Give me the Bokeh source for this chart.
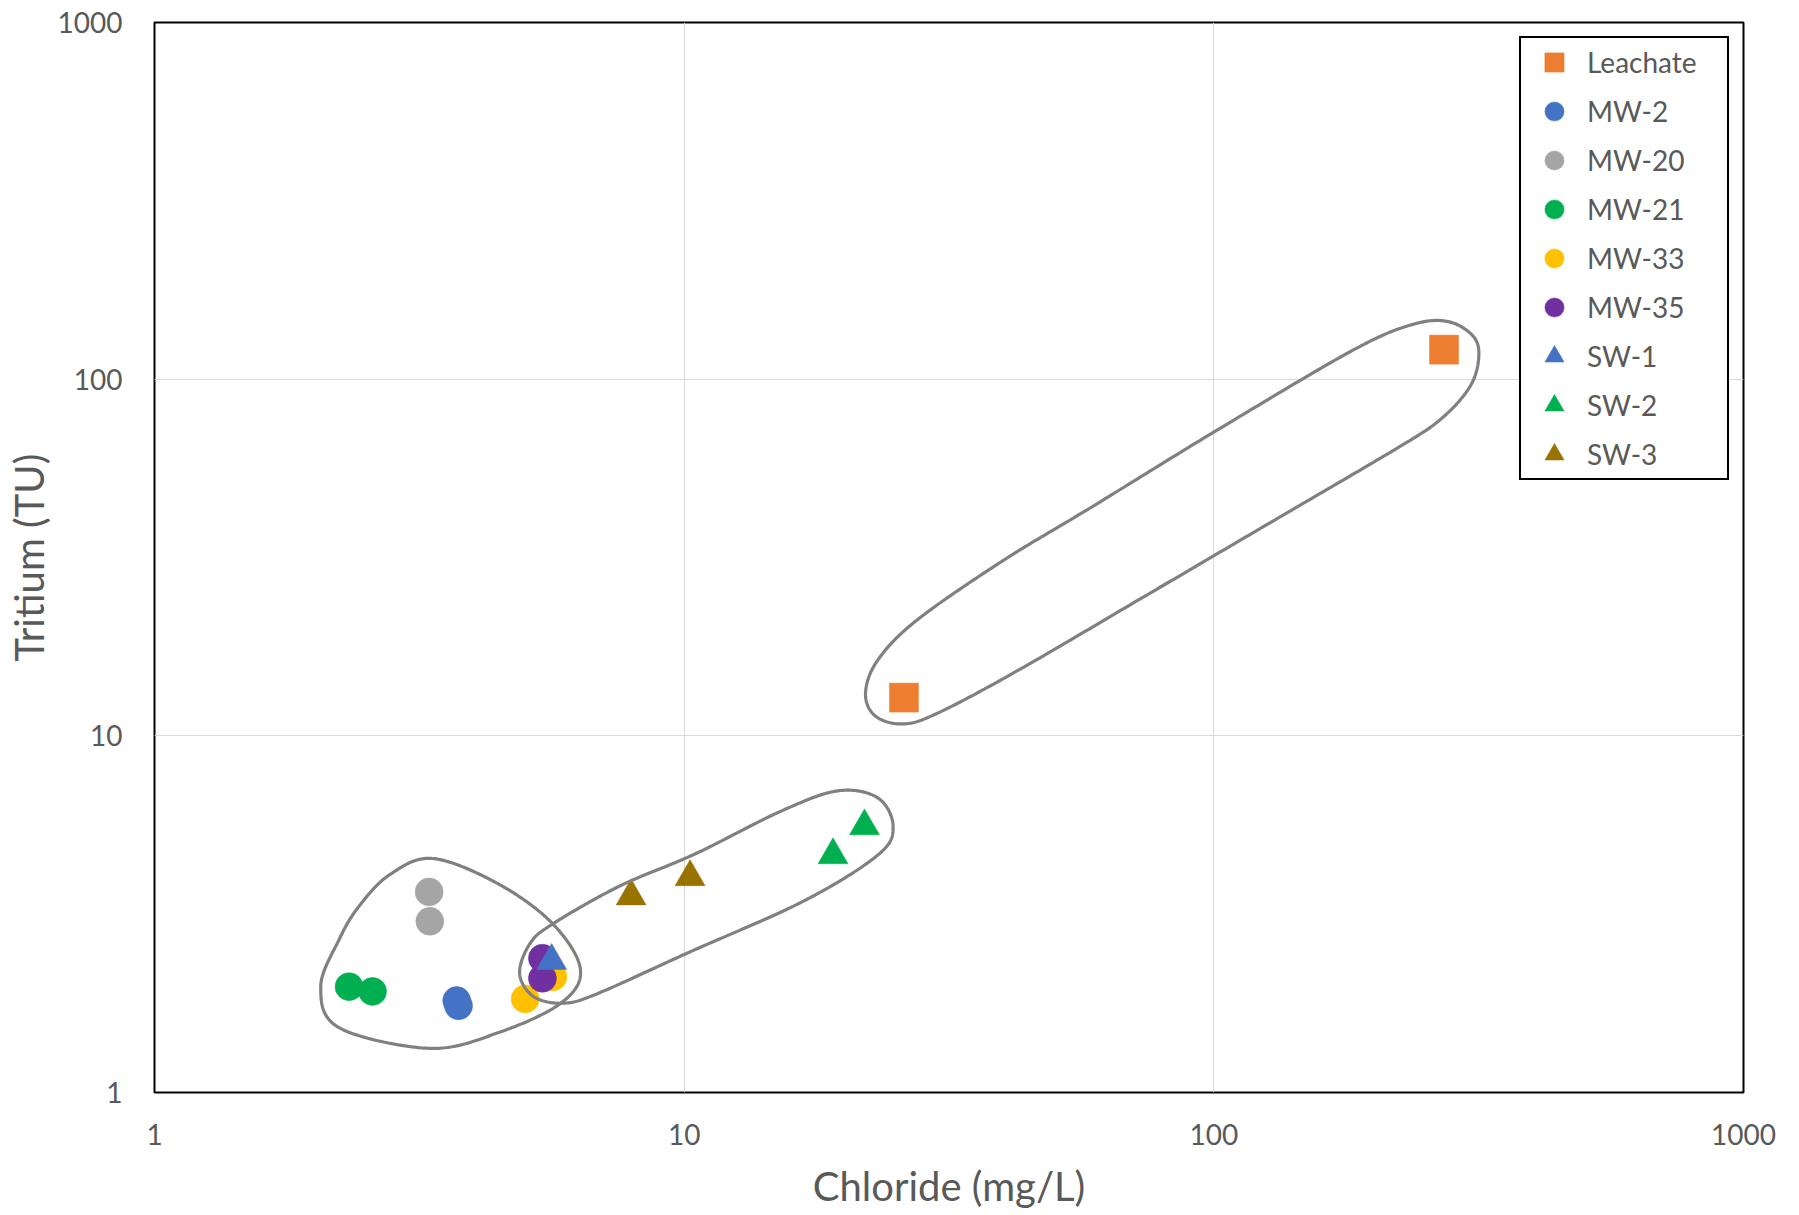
import numpy as np
from bokeh.plotting import figure
from bokeh.models import FixedTicker, PrintfTickFormatter, Legend, LegendItem
from bokeh.embed import file_html
from bokeh.resources import INLINE

# Chloride (mg/L) and tritium (TU) per sampling location
leachate_cl = [26.0, 272.0]
leachate_h3 = [12.8, 121.0]
mw2_cl = [3.72, 3.75]
mw2_h3 = [1.81, 1.75]
mw20_cl = [3.30, 3.31]
mw20_h3 = [3.65, 3.02]
mw21_cl = [2.33, 2.58]
mw21_h3 = [1.98, 1.92]
mw33_cl = [5.01, 5.65]
mw33_h3 = [1.83, 2.11]
mw35_cl = [5.40, 5.40]
mw35_h3 = [2.38, 2.09]
sw1_cl = [5.62]
sw1_h3 = [2.34]
sw2_cl = [19.1, 21.9]
sw2_h3 = [4.63, 5.58]
sw3_cl = [7.94, 10.26]
sw3_h3 = [3.55, 4.02]

# Outline anchors (chloride, tritium) for the three groupings
group_gw_cl = [3.35, 4.45, 5.65, 6.37, 5.85, 4.45, 3.31, 2.23, 2.06, 2.23, 2.43, 2.78]
group_gw_h3 = [4.53, 3.85, 2.97, 2.21, 1.78, 1.47, 1.33, 1.52, 1.98, 2.68, 3.32, 4.08]
group_sw_cl = [4.89, 5.12, 5.65, 7.55, 10.5, 15.2, 19.5, 23.2, 24.8, 23.2, 16.8, 10.2, 6.84, 5.89, 5.19]
group_sw_h3 = [2.16, 2.62, 2.97, 3.79, 4.67, 6.14, 7.01, 6.70, 5.57, 4.63, 3.44, 2.47, 1.89, 1.78, 1.86]
group_lc_cl = [22.0, 22.9, 25.7, 29.8, 42.5, 75.0, 130, 222, 268, 303, 316, 310,
               277, 236, 182, 101, 58.5, 40.0, 27.5, 23.2]
group_lc_h3 = [13.2, 11.4, 10.8, 11.5, 15.2, 24.9, 40.2, 64.1, 77.2, 94.2, 113, 131,
               145, 142, 120, 71.7, 43.6, 31.0, 21.1, 16.3]

decade_ticks = [1, 10, 100, 1000]

FONT = "Lato"
TEXT = "#595959"

series = [
    ("Leachate", leachate_cl, leachate_h3, "square", "#ED7D31", 29),
    ("MW-2", mw2_cl, mw2_h3, "circle", "#4472C4", 28),
    ("MW-20", mw20_cl, mw20_h3, "circle", "#A5A5A5", 28),
    ("MW-21", mw21_cl, mw21_h3, "circle", "#00B050", 28),
    ("MW-33", mw33_cl, mw33_h3, "circle", "#FFC000", 28),
    ("MW-35", mw35_cl, mw35_h3, "circle", "#7030A0", 28),
    ("SW-1", sw1_cl, sw1_h3, "triangle", "#4472C4", 30),
    ("SW-2", sw2_cl, sw2_h3, "triangle", "#00B050", 30),
    ("SW-3", sw3_cl, sw3_h3, "triangle", "#997300", 30),
]


def closed_spline(xs, ys, n=30):
    """Smooth closed Catmull-Rom curve through anchors, built in log space."""
    P = np.column_stack([np.log10(xs), np.log10(ys)])
    m = len(P)
    t = np.linspace(0, 1, n, endpoint=False)[:, None]
    segs = []
    for i in range(m):
        p0, p1, p2, p3 = P[i - 1], P[i], P[(i + 1) % m], P[(i + 2) % m]
        seg = 0.5 * (2 * p1 + (-p0 + p2) * t
                     + (2 * p0 - 5 * p1 + 4 * p2 - p3) * t ** 2
                     + (-p0 + 3 * p1 - 3 * p2 + p3) * t ** 3)
        segs.append(seg)
    pts = np.vstack(segs + [segs[0][:1]])
    return 10 ** pts[:, 0], 10 ** pts[:, 1]


p = figure(
    width=1799, height=1215,
    x_axis_type="log", y_axis_type="log",
    x_range=(1, 1000), y_range=(1, 1000),
    output_backend="svg", toolbar_location=None,
    min_border_left=154, min_border_right=56,
    min_border_top=22, min_border_bottom=123,
    background_fill_color="white", border_fill_color="white",
)

p.outline_line_color = "black"
p.outline_line_width = 2

for ax in (p.xaxis[0], p.yaxis[0]):
    ax.ticker = FixedTicker(ticks=decade_ticks, minor_ticks=[])
    ax.formatter = PrintfTickFormatter(format="%d")
    ax.axis_line_color = None
    ax.major_tick_line_color = None
    ax.minor_tick_line_color = None
    ax.major_label_text_font = FONT
    ax.major_label_text_font_size = "28px"
    ax.major_label_text_color = TEXT
    ax.axis_label_text_font = FONT
    ax.axis_label_text_font_size = "40px"
    ax.axis_label_text_font_style = "normal"
    ax.axis_label_text_color = TEXT

p.xaxis.axis_label = "Chloride (mg/L)"
p.yaxis.axis_label = "Tritium (TU)"
p.xaxis.major_label_standoff = 25
p.xaxis.axis_label_standoff = 14
p.yaxis.major_label_standoff = 26
p.yaxis.axis_label_standoff = 2

p.xgrid.grid_line_color = "#D9D9D9"
p.ygrid.grid_line_color = "#D9D9D9"
p.xgrid.grid_line_width = 1
p.ygrid.grid_line_width = 1

items = []
for name, xs, ys, marker, color, size in series:
    r = p.scatter(xs, ys, marker=marker, size=size, fill_color=color,
                  line_color=color, line_width=0.5)
    items.append(LegendItem(label=name, renderers=[r]))

for gx, gy in ((group_gw_cl, group_gw_h3), (group_sw_cl, group_sw_h3),
               (group_lc_cl, group_lc_h3)):
    cx, cy = closed_spline(gx, gy)
    p.line(cx, cy, line_color="#808080", line_width=3.2)

legend = Legend(
    items=items, location="top_right", margin=14, padding=0,
    glyph_width=66, glyph_height=48, label_height=48, label_width=140,
    label_standoff=0, spacing=1,
    label_text_font=FONT, label_text_font_size="28px", label_text_color=TEXT,
    border_line_color="black", border_line_width=2, border_line_alpha=1.0,
    background_fill_color="white", background_fill_alpha=1.0,
)
p.add_layout(legend)

open("out.html", "w").write(file_html(p, INLINE))
